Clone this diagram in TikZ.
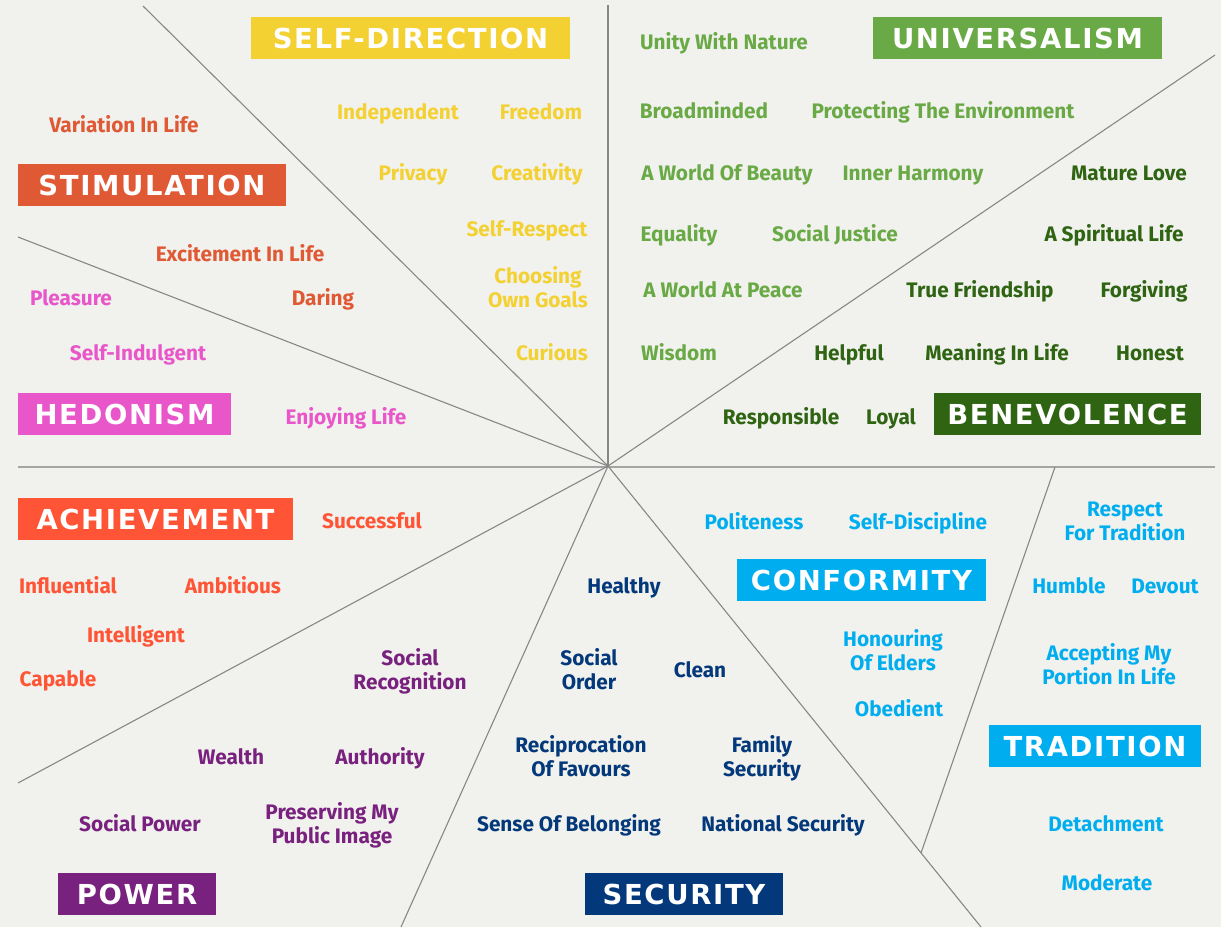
\documentclass[tikz,border=0pt]{standalone}
\usepackage{fontspec}
\setmainfont{Fira Sans}
\newfontfamily\lblfont{Fira Sans}[FakeStretch=0.99]
\newfontfamily\hdrfont{DejaVu Sans}[LetterSpace=6]
\definecolor{bg}{HTML}{F1F1ED}
\definecolor{sdc}{HTML}{F4D133}
\definecolor{unc}{HTML}{6AAA46}
\definecolor{bec}{HTML}{2F6413}
\definecolor{stc}{HTML}{E05935}
\definecolor{hec}{HTML}{E856C9}
\definecolor{acc}{HTML}{FF5435}
\definecolor{poc}{HTML}{79217F}
\definecolor{sec}{HTML}{03387A}
\definecolor{coc}{HTML}{00AEEF}
\definecolor{linec}{HTML}{878787}
\definecolor{hlinec}{HTML}{A5A5A5}
\begin{document}
\begin{tikzpicture}[x=1pt,y=-1pt,
  lbl/.style={font=\lblfont\bfseries\fontsize{21}{24}\selectfont, inner sep=0pt, text height=14.5, text depth=0},
  lbltwo/.style={font=\lblfont\bfseries\fontsize{21}{24}\selectfont, inner sep=0pt, align=center},
  hdr/.style={font=\hdrfont\bfseries\fontsize{27.5}{30}\selectfont, text=white, inner sep=0pt, minimum height=42, text height=20, text depth=0},
  div/.style={draw=linec, line width=1.1},
  hdiv/.style={draw=hlinec, line width=2}]
\fill[bg] (0,0) rectangle (1221,927);
\useasboundingbox (0,0) rectangle (1221,927);

% divider coordinates
\coordinate (O) at (608,466);
\coordinate (pTop) at (608,5);
\coordinate (pTL) at (143,6);
\coordinate (pL) at (18,237);
\coordinate (pTR) at (1215,55);
\coordinate (pHL) at (18,467);
\coordinate (pHR) at (1215,467);
\coordinate (pBL) at (18,783);
\coordinate (pB) at (401,927);
\coordinate (pBR) at (981,927);
\coordinate (tTop) at (1055,467);
\coordinate (tBot) at (921,853);

\draw[hdiv] (pHL) -- (pHR);
\draw[div] (pTop) -- (O);
\draw[div] (pTL) -- (O);
\draw[div] (pL) -- (O);
\draw[div] (pTR) -- (O);
\draw[div] (pBL) -- (O);
\draw[div] (pB) -- (O);
\draw[div] (O) -- (pBR);
\draw[div] (tTop) -- (tBot);

% headers
\node[hdr, fill=sdc, minimum width=319] (hSD) at (410.5,38) {SELF-DIRECTION};
\node[hdr, fill=unc, minimum width=289] (hUN) at (1017.5,38) {UNIVERSALISM};
\node[hdr, fill=stc, minimum width=268] (hST) at (152,185) {STIMULATION};
\node[hdr, fill=hec, minimum width=213] (hHE) at (124.5,414) {HEDONISM};
\node[hdr, fill=bec, minimum width=267] (hBE) at (1067.5,414) {BENEVOLENCE};
\node[hdr, fill=acc, minimum width=275] (hAC) at (155.5,519) {ACHIEVEMENT};
\node[hdr, fill=coc, minimum width=249] (hCO) at (861.5,580) {CONFORMITY};
\node[hdr, fill=coc, minimum width=212] (hTR) at (1095,746) {TRADITION};
\node[hdr, fill=poc, minimum width=158] (hPO) at (137,894) {POWER};
\node[hdr, fill=sec, minimum width=198] (hSE) at (684,894) {SECURITY};

% self-direction
\begin{scope}[every node/.append style={text=sdc}]
\node[lbl] (sd1) at (398,112) {Independent};
\node[lbl] (sd2) at (541,112) {Freedom};
\node[lbl] (sd3) at (413,173) {Privacy};
\node[lbl] (sd4) at (537,173) {Creativity};
\node[lbl] (sd5) at (527,229) {Self-Respect};
\node[lbltwo] (sd6) at (538,287) {Choosing\\Own Goals};
\node[lbl] (sd7) at (552,353) {Curious};
\end{scope}

% stimulation
\begin{scope}[every node/.append style={text=stc}]
\node[lbl] (st1) at (124,125) {Variation In Life};
\node[lbl] (st2) at (240,254) {Excitement In Life};
\node[lbl] (st3) at (323,298) {Daring};
\end{scope}

% hedonism
\begin{scope}[every node/.append style={text=hec}]
\node[lbl] (he1) at (71,298) {Pleasure};
\node[lbl] (he2) at (138,353) {Self-Indulgent};
\node[lbl] (he3) at (346,417) {Enjoying Life};
\end{scope}

% universalism
\begin{scope}[every node/.append style={text=unc}]
\node[lbl] (un1) at (724,42) {Unity With Nature};
\node[lbl] (un2) at (704,111) {Broadminded};
\node[lbl] (un3) at (943,111) {Protecting The Environment};
\node[lbl] (un4) at (727,173) {A World Of Beauty};
\node[lbl] (un5) at (913,173) {Inner Harmony};
\node[lbl] (un6) at (679,234) {Equality};
\node[lbl] (un7) at (835,234) {Social Justice};
\node[lbl] (un8) at (723,290) {A World At Peace};
\node[lbl] (un9) at (679,353) {Wisdom};
\end{scope}

% benevolence
\begin{scope}[every node/.append style={text=bec}]
\node[lbl] (be1) at (1129,173) {Mature Love};
\node[lbl] (be2) at (1114,234) {A Spiritual Life};
\node[lbl] (be3) at (980,290) {True Friendship};
\node[lbl] (be4) at (1144,290) {Forgiving};
\node[lbl] (be5) at (849,353) {Helpful};
\node[lbl] (be6) at (997,353) {Meaning In Life};
\node[lbl] (be7) at (1150,353) {Honest};
\node[lbl] (be8) at (781,417) {Responsible};
\node[lbl] (be9) at (891,417) {Loyal};
\end{scope}

% achievement
\begin{scope}[every node/.append style={text=acc}]
\node[lbl] (ac1) at (372,521) {Successful};
\node[lbl] (ac2) at (68,586) {Influential};
\node[lbl] (ac3) at (233,586) {Ambitious};
\node[lbl] (ac4) at (136,635) {Intelligent};
\node[lbl] (ac5) at (58,679) {Capable};
\end{scope}

% power
\begin{scope}[every node/.append style={text=poc}]
\node[lbltwo] (po1) at (410,671) {Social\\Recognition};
\node[lbl] (po2) at (231,757) {Wealth};
\node[lbl] (po3) at (380,757) {Authority};
\node[lbl] (po4) at (140,824) {Social Power};
\node[lbltwo] (po5) at (332,825) {Preserving My\\Public Image};
\end{scope}

% security
\begin{scope}[every node/.append style={text=sec}]
\node[lbl] (se1) at (624,586) {Healthy};
\node[lbltwo] (se2) at (589,669) {Social\\Order};
\node[lbl] (se3) at (700,670) {Clean};
\node[lbltwo] (se4) at (581,756) {Reciprocation\\Of Favours};
\node[lbltwo] (se5) at (762,758) {Family\\Security};
\node[lbl] (se6) at (569,824) {Sense Of Belonging};
\node[lbl] (se7) at (783,824) {National Security};
\end{scope}

% conformity
\begin{scope}[every node/.append style={text=coc}]
\node[lbl] (co1) at (754,522) {Politeness};
\node[lbl] (co2) at (918,522) {Self-Discipline};
\node[lbltwo] (co3) at (893,650) {Honouring\\Of Elders};
\node[lbl] (co4) at (899,709) {Obedient};
\end{scope}

% tradition
\begin{scope}[every node/.append style={text=coc}]
\node[lbltwo] (tr1) at (1125,521) {Respect\\For Tradition};
\node[lbl] (tr2) at (1069,586) {Humble};
\node[lbl] (tr3) at (1165,586) {Devout};
\node[lbltwo] (tr4) at (1109,664) {Accepting My\\Portion In Life};
\node[lbl] (tr5) at (1106,824) {Detachment};
\node[lbl] (tr6) at (1107,883) {Moderate};
\end{scope}
\end{tikzpicture}
\end{document}
